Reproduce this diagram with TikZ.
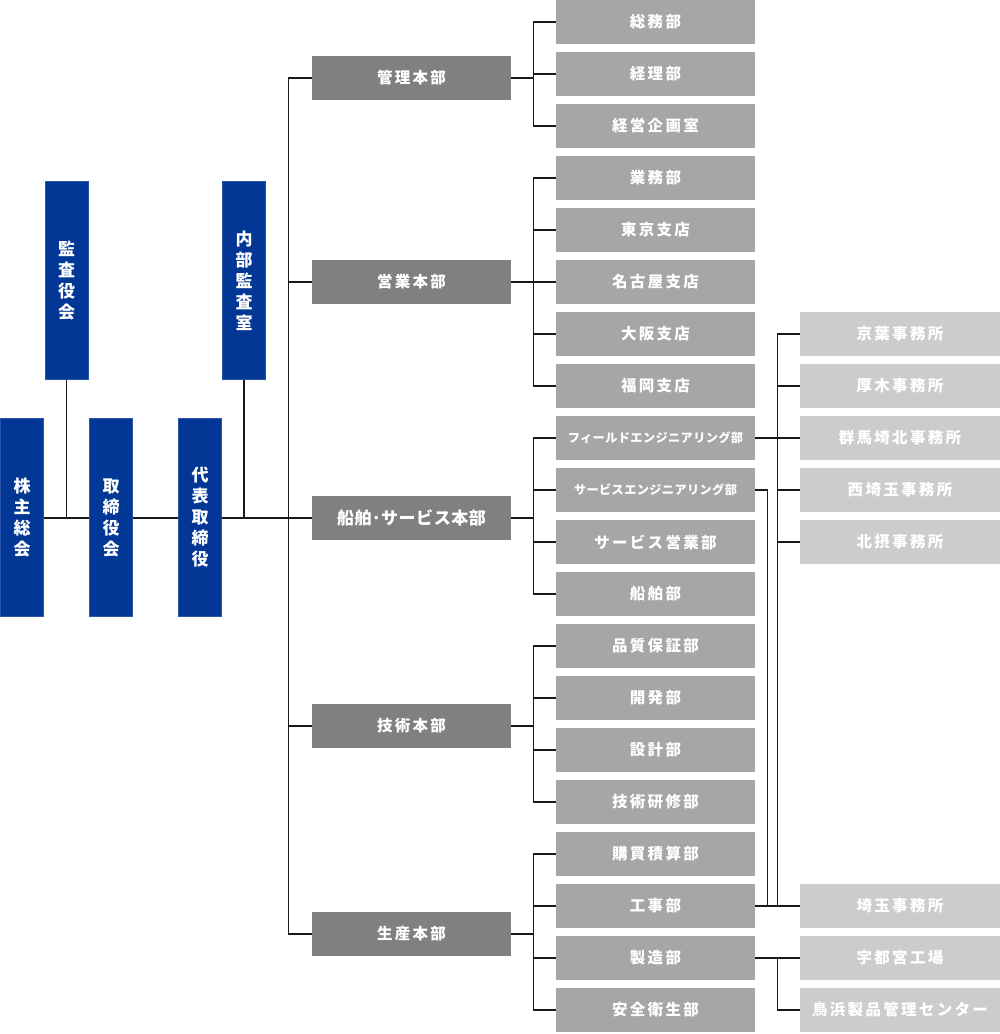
\documentclass[tikz,border=0pt]{standalone}
\usepackage{fontspec}
\newfontfamily\jp{Noto Sans CJK JP}[LetterSpace=15]
\newfontfamily\jpn{Noto Sans CJK JP}[LetterSpace=3]
\definecolor{blueC}{HTML}{033796}
\definecolor{blueE}{HTML}{2A55AA}
\definecolor{grayA}{HTML}{808080}
\definecolor{grayB}{HTML}{A6A6A6}
\definecolor{grayC}{HTML}{CCCCCC}
\definecolor{lineC}{HTML}{1A1A1A}
\tikzset{
  bluebox/.style={fill=blueC, draw=blueE, line width=0.6pt, minimum width=43pt, minimum height=198pt, inner sep=0pt, text=white, align=center, font=\jp\bfseries\fontsize{17}{21}\selectfont},
  hqbox/.style={fill=grayA, minimum width=199pt, minimum height=44pt, inner sep=0pt, text=white, font=\jp\bfseries\fontsize{15.5}{18}\selectfont},
  widehq/.style={hqbox, font=\jpn\bfseries\fontsize{17}{20}\selectfont},
  subbox/.style={fill=grayB, minimum width=199pt, minimum height=44pt, inner sep=0pt, text=white, font=\jp\bfseries\fontsize{15.5}{18}\selectfont},
  smallsub/.style={subbox, font=\jpn\bfseries\fontsize{12.2}{14}\selectfont},
  officebox/.style={fill=grayC, minimum width=200pt, minimum height=44pt, inner sep=0pt, text=white, font=\jp\bfseries\fontsize{15.5}{18}\selectfont},
  conn/.style={draw=lineC, line width=1.3pt}
}
\begin{document}
\begin{tikzpicture}[x=1pt,y=-1pt]
\useasboundingbox (0,0) rectangle (1000,1034);
% blue boxes
\node[bluebox] (kabu) at (22,517.5) {株\\主\\総\\会};
\node[bluebox] (tori) at (111,517.5) {取\\締\\役\\会};
\node[bluebox] (dai) at (200,517.5) {代\\表\\取\\締\\役};
\node[bluebox] (kan) at (66.5,280.5) {監\\査\\役\\会};
\node[bluebox] (nai) at (244,280.5) {内\\部\\監\\査\\室};
% HQ
\node[hqbox] (h1) at (411.5,78) {管理本部};
\node[hqbox] (h2) at (411.5,282) {営業本部};
\node[widehq] (h3) at (411.5,518) {船舶･サービス本部};
\node[hqbox] (h4) at (411.5,726) {技術本部};
\node[hqbox] (h5) at (411.5,934) {生産本部};
% subs
\node[subbox] (s0) at (655.5,22) {総務部};
\node[subbox] (s1) at (655.5,74) {経理部};
\node[subbox] (s2) at (655.5,126) {経営企画室};
\node[subbox] (s3) at (655.5,178) {業務部};
\node[subbox] (s4) at (655.5,230) {東京支店};
\node[subbox] (s5) at (655.5,282) {名古屋支店};
\node[subbox] (s6) at (655.5,334) {大阪支店};
\node[subbox] (s7) at (655.5,386) {福岡支店};
\node[smallsub] (s8) at (655.5,438) {フィールドエンジニアリング部};
\node[smallsub] (s9) at (655.5,490) {サービスエンジニアリング部};
\node[subbox] (s10) at (655.5,542) {サービス営業部};
\node[subbox] (s11) at (655.5,594) {船舶部};
\node[subbox] (s12) at (655.5,646) {品質保証部};
\node[subbox] (s13) at (655.5,698) {開発部};
\node[subbox] (s14) at (655.5,750) {設計部};
\node[subbox] (s15) at (655.5,802) {技術研修部};
\node[subbox] (s16) at (655.5,854) {購買積算部};
\node[subbox] (s17) at (655.5,906) {工事部};
\node[subbox] (s18) at (655.5,958) {製造部};
\node[subbox] (s19) at (655.5,1010) {安全衛生部};
% offices
\node[officebox] (o1) at (900,334) {京葉事務所};
\node[officebox] (o2) at (900,386) {厚木事務所};
\node[officebox] (o3) at (900,438) {群馬埼北事務所};
\node[officebox] (o4) at (900,490) {西埼玉事務所};
\node[officebox] (o5) at (900,542) {北摂事務所};
\node[officebox] (o6) at (900,906) {埼玉事務所};
\node[officebox] (o7) at (900,958) {宇都宮工場};
\node[officebox] (o8) at (900,1010) {鳥浜製品管理センター};
% left connectors
\coordinate (mainy) at (0,518);
\draw[conn] (kabu.east |- mainy) -- (tori.west |- mainy);
\draw[conn] (tori.east |- mainy) -- (dai.west |- mainy);
\draw[conn] (dai.east |- mainy) -- (h3.west);
\draw[conn] (kan.south) -- (kan.south |- mainy);
\draw[conn] (nai.south) -- (nai.south |- mainy);
% trunk
\draw[conn] (h1.west) -- ++(-23,0) |- (h5.west);
\draw[conn] (h2.west) -- ++(-23,0);
\draw[conn] (h4.west) -- ++(-23,0);
% brackets
\draw[conn] (h1.east) -- ++(23,0);
\draw[conn] (s0.west) -- ++(-22,0) |- (s2.west);
\draw[conn] (s1.west) -- ++(-22,0);
\draw[conn] (h2.east) -- ++(23,0);
\draw[conn] (s3.west) -- ++(-22,0) |- (s7.west);
\foreach \s in {s4,s5,s6} \draw[conn] (\s.west) -- ++(-22,0);
\draw[conn] (h3.east) -- ++(23,0);
\draw[conn] (s8.west) -- ++(-22,0) |- (s11.west);
\foreach \s in {s9,s10} \draw[conn] (\s.west) -- ++(-22,0);
\draw[conn] (h4.east) -- ++(23,0);
\draw[conn] (s12.west) -- ++(-22,0) |- (s15.west);
\foreach \s in {s13,s14} \draw[conn] (\s.west) -- ++(-22,0);
\draw[conn] (h5.east) -- ++(23,0);
\draw[conn] (s16.west) -- ++(-22,0) |- (s19.west);
\foreach \s in {s17,s18} \draw[conn] (\s.west) -- ++(-22,0);
% right side
\draw[conn] (o1.west) -- ++(-22,0) |- (o6.west);
\foreach \o in {o2,o3,o4,o5} \draw[conn] (\o.west) -- ++(-22,0);
\draw[conn] (s8.east) -- (o3.west);
\draw[conn] (s9.east) -- ++(12,0) |- (s17.east);
\draw[conn] (s17.east) -- (o6.west);
\draw[conn] (s18.east) -- (o7.west);
\draw[conn] (o8.west) -- ++(-22,0) |- (o7.west);
\end{tikzpicture}
\end{document}
